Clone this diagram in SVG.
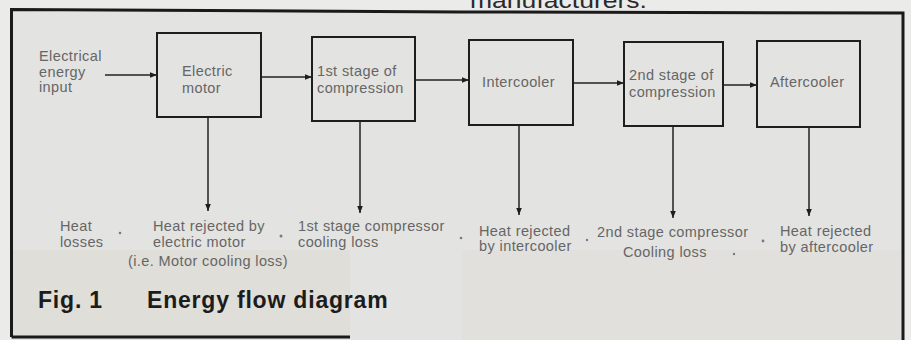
<svg xmlns="http://www.w3.org/2000/svg" width="911" height="340" viewBox="0 0 911 340">
<style>
  .lbl { font-family: "Liberation Sans", Arial, sans-serif; font-size: 14.5px; letter-spacing: 0.4px; fill: #666; }
  .box { fill: none; stroke: #1e1e1e; stroke-width: 2; }
  .cn { stroke: #222; stroke-width: 1.5; fill: none; marker-end: url(#ah); }
  .dot { fill: #7a7a7a; }
  .title { font-family: "Liberation Sans", Arial, sans-serif; font-size: 23px; font-weight: bold; letter-spacing: 0.8px; fill: #1c1c1c; }
</style>
<defs>
  <marker id="ah" viewBox="0 0 10 10" refX="10" refY="5" markerWidth="7" markerHeight="7" markerUnits="userSpaceOnUse" orient="auto">
    <path d="M0,1 L10,5 L0,9 Z" fill="#1e1e1e"/>
  </marker>
</defs>
<rect x="0" y="0" width="911" height="340" fill="#ebebe9"/>
<rect x="12" y="11" width="891" height="329" fill="#e3e3e1"/>
<rect x="12" y="250" width="338" height="87" fill="#dfded8"/>
<rect x="462" y="250" width="441" height="90" fill="#e1e0dc"/>
<text x="470" y="8" style="font-family:'Liberation Sans',Arial,sans-serif;font-size:22px;fill:#2a2a2a" textLength="177" lengthAdjust="spacingAndGlyphs">manufacturers.</text>
<path d="M11.5,337 L11.5,9.5 L460,12 L903,13 L903,340" fill="none" stroke="#1a1a1a" stroke-width="3"/>
<line x1="11.5" y1="337" x2="350" y2="337" stroke="#1a1a1a" stroke-width="3"/>

<g id="input">
  <text class="lbl"><tspan x="39" y="61">Electrical</tspan><tspan x="39" y="77">energy</tspan><tspan x="39" y="92">input</tspan></text>
</g>
<g id="motor">
  <rect class="box" x="157" y="33" width="104" height="84"/>
  <text class="lbl"><tspan x="182" y="76">Electric</tspan><tspan x="182" y="93">motor</tspan></text>
</g>
<g id="stage1">
  <rect class="box" x="312" y="37" width="103" height="84"/>
  <text class="lbl"><tspan x="317" y="76">1st stage of</tspan><tspan x="317" y="93">compression</tspan></text>
</g>
<g id="intercooler">
  <rect class="box" x="469" y="40" width="104" height="85"/>
  <text class="lbl" x="482" y="87">Intercooler</text>
</g>
<g id="stage2">
  <rect class="box" x="624" y="42" width="99" height="84"/>
  <text class="lbl"><tspan x="629" y="80">2nd stage of</tspan><tspan x="629" y="97">compression</tspan></text>
</g>
<g id="aftercooler">
  <rect class="box" x="757" y="41" width="103" height="86"/>
  <text class="lbl" x="770" y="87">Aftercooler</text>
</g>

<g id="connectors">
  <line class="cn" x1="105" y1="75" x2="157" y2="75"/>
  <line class="cn" x1="261" y1="77" x2="312" y2="77"/>
  <line class="cn" x1="415" y1="80" x2="469" y2="80"/>
  <line class="cn" x1="573" y1="83" x2="624" y2="83"/>
  <line class="cn" x1="723" y1="85" x2="757" y2="85"/>
  <line class="cn" x1="208" y1="117" x2="208" y2="211"/>
  <line class="cn" x1="360" y1="121" x2="360" y2="213"/>
  <line class="cn" x1="519" y1="125" x2="519" y2="215"/>
  <line class="cn" x1="673" y1="126" x2="673" y2="218"/>
  <line class="cn" x1="809" y1="127" x2="809" y2="216"/>
</g>

<g id="losses">
  <text class="lbl"><tspan x="60" y="231">Heat</tspan><tspan x="60" y="247">losses</tspan></text>
</g>
<g id="motor-loss">
  <text class="lbl"><tspan x="153" y="231">Heat rejected by</tspan><tspan x="153" y="247">electric motor</tspan><tspan x="128" y="266">(i.e. Motor cooling loss)</tspan></text>
</g>
<g id="stage1-loss">
  <text class="lbl"><tspan x="298" y="231">1st stage compressor</tspan><tspan x="298" y="247">cooling loss</tspan></text>
</g>
<g id="intercooler-loss">
  <text class="lbl"><tspan x="479" y="236">Heat rejected</tspan><tspan x="479" y="251">by intercooler</tspan></text>
</g>
<g id="stage2-loss">
  <text class="lbl"><tspan x="597" y="237">2nd stage compressor</tspan><tspan x="623" y="257">Cooling loss</tspan></text>
</g>
<g id="aftercooler-loss">
  <text class="lbl"><tspan x="780" y="236">Heat rejected</tspan><tspan x="780" y="252">by aftercooler</tspan></text>
</g>
<g id="dots">
  <circle class="dot" cx="120" cy="233" r="1.3"/>
  <circle class="dot" cx="281" cy="236" r="1.5"/>
  <circle class="dot" cx="461" cy="238" r="1.3"/>
  <circle class="dot" cx="587" cy="240" r="1.2"/>
  <circle class="dot" cx="734" cy="254" r="1.2"/>
  <circle class="dot" cx="763" cy="241" r="1.4"/>
</g>
<g id="caption">
  <text class="title" x="38" y="308">Fig. 1</text>
  <text class="title" x="147" y="308">Energy flow diagram</text>
</g>
</svg>
